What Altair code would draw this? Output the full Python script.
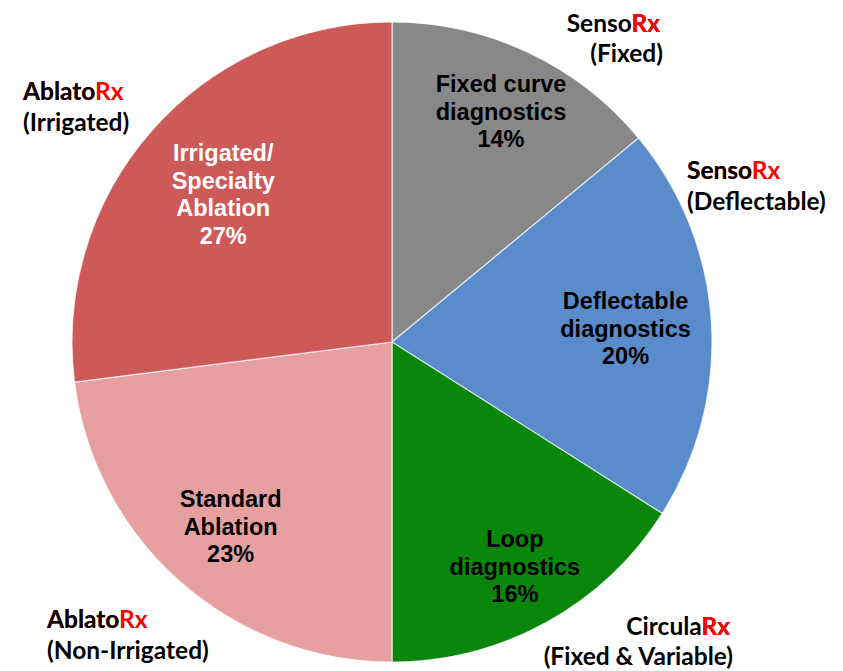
import altair as alt
import pandas as pd

# ---- data ----
segments = ["Fixed curve diagnostics", "Deflectable diagnostics", "Loop diagnostics",
            "Standard Ablation", "Irrigated/ Specialty Ablation"]
labels = ["Fixed curve\ndiagnostics\n14%", "Deflectable\ndiagnostics\n20%",
          "Loop\ndiagnostics\n16%", "Standard\nAblation\n23%",
          "Irrigated/\nSpecialty\nAblation\n27%"]
shares = [14, 20, 16, 23, 27]
colors = ["#888888", "#5a8ccc", "#0a870a", "#e6a0a0", "#cd5a58"]
text_colors = ["#000000", "#000000", "#000000", "#000000", "#ffffff"]
order = [0, 1, 2, 3, 4]

brand_prefix = ["Senso", "Senso", "Circula", "Ablato", "Ablato"]
brand_suffix = ["Rx", "Rx", "Rx", "Rx", "Rx"]
brand_sub = ["(Fixed)", "(Deflectable)", "(Fixed & Variable)", "(Non-Irrigated)", "(Irrigated)"]

df = pd.DataFrame({"segment": segments, "label": labels, "share": shares,
                   "order": order, "tcolor": text_colors})

W, H = 827, 655
CX, CY, R = 384, 334, 320
LH = 27.5
label_radius = [256, 234, 255, 244, 225]  # label placement inside slices (style)

pie = alt.Chart(df).mark_arc(radius=R, x=CX, y=CY, stroke="#ffffff", strokeWidth=1.2,
                             strokeOpacity=0.7).encode(
    theta=alt.Theta("share:Q", stack=True),
    order=alt.Order("order:Q"),
    color=alt.Color("segment:N", scale=alt.Scale(domain=segments, range=colors), legend=None),
)

text_base = alt.Chart(df).transform_joinaggregate(
    total="sum(share)"
).transform_window(
    cum="sum(share)", sort=[alt.SortField("order")], frame=[None, 0]
).transform_calculate(
    ang="(datum.cum - datum.share / 2) / datum.total * 2 * PI"
)

layers = [pie]
for i, seg in enumerate(segments):
    nlines = labels[i].count("\n") + 1
    t = text_base.transform_filter(alt.datum.segment == seg).mark_text(
        radius=label_radius[i], x=CX, y=CY, dy=-(nlines - 1) * LH / 2 + 2.5,
        font="Liberation Sans", fontWeight="bold", fontSize=23.5,
        lineBreak="\n", lineHeight=LH, baseline="middle",
    ).encode(
        theta=alt.Theta("ang:Q", scale=None),
        text="label:N",
        color=alt.Color("tcolor:N", scale=None),
    )
    layers.append(t)

# outer brand annotations (layout positions for annotations)
ann_pos = [  # (x, first-line y, align)
    (652, 17, "right"),
    (679, 164, "left"),
    (722, 620, "right"),
    (39, 613, "left"),
    (15, 85, "left"),
]

FONT = "Lato"
FS = 24.5
for i, (ax, ay, al) in enumerate(ann_pos):
    full = brand_prefix[i] + brand_suffix[i]
    one = pd.DataFrame({"full": [full], "pre": [brand_prefix[i]], "suf": [brand_suffix[i]],
                        "sub": [brand_sub[i]]})
    c = alt.Chart(one)
    common = dict(font=FONT, fontWeight="bold", fontSize=FS, baseline="middle", align=al)
    if al == "right":
        l1 = c.mark_text(color="#000000", x=ax, y=ay, **common).encode(text="full:N")
        l2 = c.mark_text(color="#ff0000", x=ax, y=ay, **common).encode(text="suf:N")
        sub = c.mark_text(color="#000000", x=ax + 3, y=ay + 30, **common).encode(text="sub:N")
    else:
        l1 = c.mark_text(color="#ff0000", x=ax, y=ay, **common).encode(text="full:N")
        l2 = c.mark_text(color="#000000", x=ax, y=ay, **common).encode(text="pre:N")
        sub = c.mark_text(color="#000000", x=ax, y=ay + 31, **common).encode(text="sub:N")
    layers += [l1, l2, sub]

chart = alt.layer(*layers).properties(
    width=W, height=H, padding=0
).configure_view(stroke=None)

chart.save("out.html", embed_options={"renderer": "svg", "actions": False})
